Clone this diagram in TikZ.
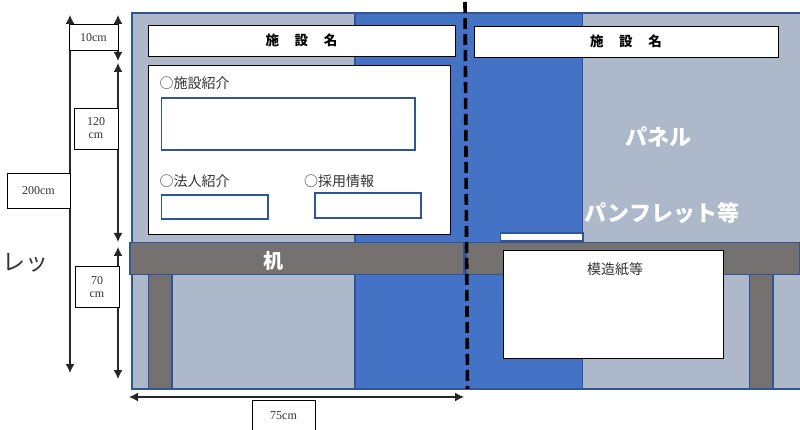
\documentclass[tikz,border=0pt]{standalone}
\usepackage{fontspec}
\setmainfont{Liberation Serif}
\newfontfamily\cjk{Noto Sans CJK JP}
\usetikzlibrary{arrows.meta}
\definecolor{panellight}{HTML}{ADB9CA}
\definecolor{panelblue}{HTML}{4472C4}
\definecolor{edgeblue}{HTML}{2F5597}
\definecolor{deskgrey}{HTML}{767171}
\definecolor{ink}{HTML}{333333}
\tikzset{
  x=1pt,y=-1pt,
  every node/.style={inner sep=0pt,outer sep=0pt},
  panelpart/.style={draw=edgeblue,line width=1.05pt},
  lightpanel/.style={panelpart,fill=panellight},
  bluepanel/.style={panelpart,fill=panelblue},
  deskpart/.style={panelpart,fill=deskgrey},
  whitebox/.style={draw=black,line width=.9pt,fill=white},
  fieldbox/.style={draw=edgeblue,line width=1.1pt,fill=white},
  dimbox/.style={draw=black,line width=.9pt,fill=white,font=\fontsize{12}{13}\selectfont,text=ink,align=center},
  dimarrow/.style={draw=black!85,line width=1.3pt,{Latex[length=9pt,width=9pt]}-{Latex[length=9pt,width=9pt]}},
  title/.style={font=\cjk\bfseries\fontsize{13.5}{15}\selectfont,text=black},
  body/.style={font=\cjk\fontsize{14}{15}\selectfont,text=ink},
  whitelabel/.style={font=\cjk\bfseries\fontsize{22}{24}\selectfont,text=white},
}
\newcommand{\boxat}[6]{% style, name, x1, y1, x2, y2
  \path[#1] (#3,#4) rectangle (#5,#6);
  \coordinate (#2) at ({(#3+#5)/2},{(#4+#6)/2});}
\begin{document}
\begin{tikzpicture}
\useasboundingbox (0,0) rectangle (800,430);
\clip (0,0) rectangle (800,430);
% panel
\boxat{lightpanel}{pleft}{132}{13}{355}{389}
\boxat{bluepanel}{pmid}{355}{13}{582.5}{389}
\boxat{lightpanel}{pright}{582.5}{13}{801}{389}
% legs and desk
\boxat{deskpart}{legleft}{148.5}{274}{172}{389}
\boxat{deskpart}{legright}{749.5}{274}{773}{389}
\boxat{deskpart}{deskleft}{130}{242.5}{464}{274.5}
\boxat{deskpart}{deskright}{466}{242.5}{800}{274.5}
% left poster
\boxat{whitebox}{nameleft}{148}{25}{455}{56}
\boxat{whitebox}{poster}{148.5}{65}{450.5}{234}
\boxat{fieldbox}{fieldone}{161.5}{98}{415}{150}
\boxat{fieldbox}{fieldtwo}{161.5}{195}{268}{219}
\boxat{fieldbox}{fieldthree}{315}{193}{421}{218}
% right items
\boxat{whitebox}{nameright}{474}{26}{778}{57.5}
\boxat{{draw=edgeblue,line width=1.05pt,fill=white!95!panellight}}{pamphlet}{500.5}{233}{583}{241}
\boxat{whitebox}{paper}{503.5}{250.5}{723.5}{358}
% dividing line
\coordinate (cuttop) at (465,2);
\coordinate (cutbottom) at (467.5,389);
\draw[black,line width=3.6pt,dash pattern=on 11pt off 5pt] (cuttop) -- (cutbottom);
% texts
\node[title] (nametextl) at (nameleft) {施\hspace{1.15em}設\hspace{1.15em}名};
\node[title] (nametextr) at (nameright) {施\hspace{1.15em}設\hspace{1.15em}名};
\node[body,anchor=west] (introa) at (159.5,83) {○施設紹介};
\node[body,anchor=west] (introb) at (159.5,181) {○法人紹介};
\node[body,anchor=west] (introc) at (304,181) {○採用情報};
\node[body] (papertext) at (615,269) {模造紙等};
\node[whitelabel] (panellabel) at (658,137) {パネル};
\node[whitelabel] (pamphletlabel) at (662,213) {パンフレット等};
\node[whitelabel,font=\cjk\bfseries\fontsize{20}{24}\selectfont] (desklabel) at (273,261) {机};
\node[font=\cjk\fontsize{23}{24}\selectfont,text=ink,anchor=east] (cutlabel) at (48,263) {レッ};
% dimension arrows
\coordinate (aa) at (70,15);
\coordinate (ab) at (70,373);
\coordinate (ba) at (118,15);
\coordinate (bb) at (118,61);
\coordinate (ca) at (118,63);
\coordinate (cb) at (118,242);
\coordinate (da) at (118,247);
\coordinate (db) at (118,379);
\coordinate (ea) at (129,397);
\coordinate (eb) at (464,397);
\draw[dimarrow] (aa) -- (ab);
\draw[dimarrow] (ba) -- (bb);
\draw[dimarrow] (ca) -- (cb);
\draw[dimarrow] (da) -- (db);
\draw[dimarrow] (ea) -- (eb);
% dimension labels
\node[dimbox,minimum width=49pt,minimum height=26pt] (dimten) at (93.5,37.5) {10cm};
\node[dimbox,minimum width=44pt,minimum height=41pt] (dimonetwenty) at (96,128.5) {120\\cm};
\node[dimbox,minimum width=63pt,minimum height=35pt] (dimtwohundred) at (38.5,190.5) {200cm};
\node[dimbox,minimum width=44pt,minimum height=41pt] (dimseventy) at (97,287) {70\\cm};
\node[dimbox,minimum width=63pt,minimum height=32pt] (dimseventyfive) at (283.5,416) {75cm};
\end{tikzpicture}
\end{document}
